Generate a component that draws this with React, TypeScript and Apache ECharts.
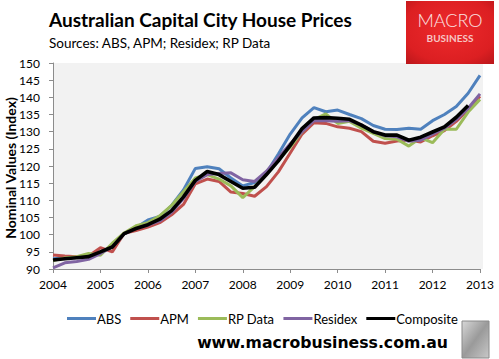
import React, { useEffect, useRef } from "react";
import * as echarts from "echarts";

const quarters = [
  2004, 2004.25, 2004.5, 2004.75, 2005, 2005.25, 2005.5, 2005.75,
  2006, 2006.25, 2006.5, 2006.75, 2007, 2007.25, 2007.5, 2007.75,
  2008, 2008.25, 2008.5, 2008.75, 2009, 2009.25, 2009.5, 2009.75,
  2010, 2010.25, 2010.5, 2010.75, 2011, 2011.25, 2011.5, 2011.75,
  2012, 2012.25, 2012.5, 2012.75, 2013,
];

const absValues = [
  93.0, 93.3, 93.5, 93.8, 95.0, 96.5, 100.3, 102.0, 104.3, 105.3, 108.5, 113.0,
  119.3, 119.8, 119.2, 116.5, 114.2, 115.2, 118.0, 123.5, 129.3, 134.0, 137.0,
  135.8, 136.3, 135.0, 133.8, 131.8, 130.7, 130.6, 131.0, 130.7, 133.2, 135.0,
  137.3, 141.2, 146.4,
];

const apmValues = [
  94.1, 93.8, 93.6, 93.8, 96.2, 95.0, 100.4, 101.2, 102.2, 103.5, 105.8, 108.8,
  114.8, 116.2, 115.5, 112.4, 112.0, 111.2, 114.0, 118.3, 123.8, 129.3, 132.6,
  132.4, 131.4, 131.0, 130.0, 127.2, 126.6, 127.3, 127.6, 127.0, 128.8, 130.3,
  133.0, 136.5, 140.3,
];

const rpDataValues = [
  92.5, 93.2, 93.6, 94.5, 94.0, 97.5, 100.5, 102.6, 103.5, 105.5, 108.5, 112.5,
  116.5, 117.5, 116.2, 114.2, 110.8, 114.0, 117.5, 121.8, 125.5, 130.0, 133.5,
  135.2, 132.4, 133.0, 131.0, 129.5, 128.0, 127.8, 125.8, 128.2, 126.8, 130.7,
  130.7, 135.7, 139.4,
];

const residexValues = [
  90.3, 91.8, 92.2, 92.8, 94.5, 96.5, 100.2, 101.8, 102.8, 104.0, 106.5, 110.5,
  115.5, 117.5, 117.8, 118.0, 116.0, 115.5, 118.5, 122.5, 126.5, 130.0, 133.2,
  133.2, 133.0, 133.2, 132.0, 130.0, 128.8, 128.5, 127.2, 127.5, 129.3, 131.0,
  133.5, 136.8, 141.0,
];

const compositeValues = [
  92.6, 93.0, 93.3, 93.6, 95.0, 96.4, 100.3, 101.8, 102.9, 104.5, 107.0, 111.0,
  115.8, 118.4, 117.5, 115.5, 113.5, 113.8, 117.5, 121.5, 126.0, 130.9, 134.0,
  134.1, 133.9, 133.6, 131.9, 130.0, 129.0, 129.0, 127.5, 128.4, 129.9, 131.4,
  134.2, 137.6,
];

const seriesNames = ["ABS", "APM", "RP Data", "Residex", "Composite"];
const seriesColors = ["#4f81bd", "#c0504d", "#9bbb59", "#8064a2", "#000000"];
const seriesValues = [absValues, apmValues, rpDataValues, residexValues, compositeValues];

const titleText = "Australian Capital City House Prices";
const subtitleText = "Sources: ABS, APM; Residex; RP Data";
const yAxisTitle = "Nominal Values (Index)";
const urlText = "www.macrobusiness.com.au";

const FONT = "Lato, 'Open Sans', sans-serif";

export default function App() {
  const ref = useRef<HTMLDivElement>(null);

  useEffect(() => {
    if (!ref.current) return;
    const chart = echarts.init(ref.current, null, { renderer: "svg" });

    const series = seriesNames.map((name, si) => ({
      name,
      type: "line",
      data: seriesValues[si].map((v, i) => [quarters[i], v]),
      showSymbol: false,
      symbol: "none",
      smooth: false,
      color: seriesColors[si],
      lineStyle: { width: si === 4 ? 3.6 : 3, color: seriesColors[si] },
      z: 2 + si,
    }));

    const option: any = {
      animation: false,
      backgroundColor: "#ffffff",
      grid: { left: 53, top: 63, width: 427, height: 206, containLabel: false },
      xAxis: {
        type: "value",
        min: 2004,
        max: 2013,
        interval: 1,
        axisLine: { show: true, onZero: false, lineStyle: { color: "#8c8c8c", width: 1 } },
        axisTick: { show: true, inside: false, length: 4, lineStyle: { color: "#8c8c8c" } },
        splitLine: { show: false },
        axisLabel: {
          color: "#000",
          fontFamily: FONT,
          fontSize: 12,
          margin: 9,
          formatter: (v: number) => String(Math.round(v)),
        },
      },
      yAxis: {
        type: "value",
        min: 90,
        max: 150,
        interval: 5,
        axisLine: { show: true, lineStyle: { color: "#8c8c8c", width: 1 } },
        axisTick: { show: true, inside: false, length: 4, lineStyle: { color: "#8c8c8c" } },
        splitLine: { show: false },
        axisLabel: { color: "#000", fontFamily: FONT, fontSize: 12, margin: 13 },
      },
      legend: {
        data: seriesNames,
        left: 62,
        top: 307,
        icon: "rect",
        itemWidth: 29,
        itemHeight: 3,
        itemGap: 9,
        textStyle: { color: "#000", fontFamily: FONT, fontSize: 13, padding: [0, 0, 0, -4] },
      },
      graphic: [
        {
          type: "rect",
          z: -10,
          silent: true,
          shape: { x: 53, y: 63, width: 430, height: 206 },
          style: { fill: "#f2f2f2" },
        },
        {
          type: "text",
          x: 10,
          y: 168,
          rotation: Math.PI / 2,
          style: {
            text: yAxisTitle,
            font: `bold 14px ${FONT}`,
            fill: "#000",
            align: "center",
            verticalAlign: "middle",
          },
        },
        {
          type: "text",
          x: 49,
          y: 19.5,
          style: {
            text: titleText,
            font: `bold 19px ${FONT}`,
            fill: "#000",
            verticalAlign: "middle",
          },
        },
        {
          type: "text",
          x: 49,
          y: 43,
          style: {
            text: subtitleText,
            font: `13.5px ${FONT}`,
            fill: "#000",
            verticalAlign: "middle",
          },
        },
        {
          type: "rect",
          shape: { x: 406, y: 1, width: 88, height: 63 },
          style: {
            fill: new echarts.graphic.RadialGradient(0.5, 0.45, 0.75, [
              { offset: 0, color: "#ee2a2c" },
              { offset: 0.7, color: "#dc1f22" },
              { offset: 1, color: "#b8161a" },
            ]),
          },
        },
        {
          type: "text",
          x: 450,
          y: 19.5,
          style: {
            text: "MACRO",
            font: `300 18px ${FONT}`,
            fill: "#fbe3e3",
            align: "center",
            verticalAlign: "middle",
          },
        },
        {
          type: "text",
          x: 450,
          y: 37.5,
          style: {
            text: "BUSINESS",
            font: `bold 10px ${FONT}`,
            fill: "#f6c4c4",
            align: "center",
            verticalAlign: "middle",
          },
        },
        {
          type: "text",
          x: 448,
          y: 342,
          style: {
            text: urlText,
            font: "bold 15.7px 'DejaVu Sans', sans-serif",
            fill: "#000",
            align: "right",
            verticalAlign: "middle",
          },
        },
        {
          type: "rect",
          shape: { x: 462, y: 321, width: 27, height: 37 },
          style: {
            fill: new echarts.graphic.LinearGradient(0, 0, 1, 1, [
              { offset: 0, color: "#d8d8d8" },
              { offset: 0.5, color: "#9a9a9a" },
              { offset: 1, color: "#c8c8c8" },
            ]),
            stroke: "#8a8a8a",
            lineWidth: 1,
          },
        },
      ],
      series,
    };

    chart.setOption(option);
    return () => chart.dispose();
  }, []);

  return (
    <div
      ref={ref}
      style={{ position: "fixed", left: 0, top: 0, width: 499, height: 359 }}
    />
  );
}
